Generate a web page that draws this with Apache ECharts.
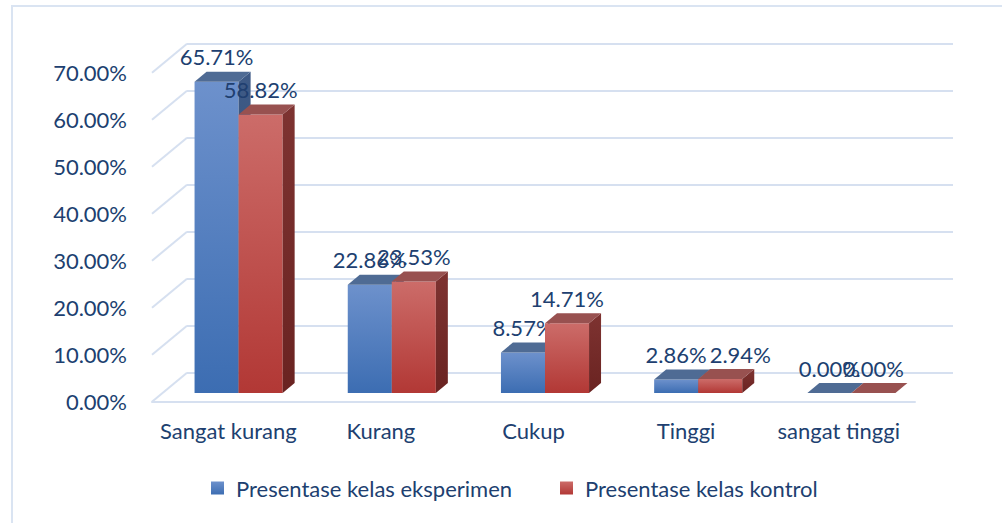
<!DOCTYPE html>
<html>
<head>
<meta charset="utf-8">
<script src="https://cdn.jsdelivr.net/npm/echarts@6/dist/echarts.min.js"></script>
<style>html,body{margin:0;padding:0;background:#fff}#chart{width:1002px;height:523px}</style>
</head>
<body>
<div id="chart"></div>
<script>
const categories = ['Sangat kurang', 'Kurang', 'Cukup', 'Tinggi', 'sangat tinggi'];
const eksperimen = [65.71, 22.86, 8.57, 2.86, 0.00];
const kontrol = [58.82, 23.53, 14.71, 2.94, 0.00];
const yTicks = [0, 10, 20, 30, 40, 50, 60, 70];
const seriesNames = ['Presentase kelas eksperimen', 'Presentase kelas kontrol'];

const FONT = 'Lato';
const TEXT = '#203F70';
const GRID_LINE = '#D6E0F0';
const DX = 12, DY = -10;
// label nudges as seen in the reference (series-index, category-index) -> px
const labelNudge = { '1-3': 20 };

const palette = [
  { frontTop: '#6D91CC', frontBot: '#3C6DB2', top: '#4F6B94', side: '#3E5A86', sideBot: '#334C74' },
  { frontTop: '#CC6C69', frontBot: '#B23835', top: '#985150', side: '#7E3331', sideBot: '#6A2321' }
];

function grad(a, b) {
  return new echarts.graphic.LinearGradient(0, 0, 0, 1, [{ offset: 0, color: a }, { offset: 1, color: b }]);
}

function makeBar(k) {
  const c = palette[k];
  return function (params, api) {
    const i = api.value(0), v = api.value(1);
    const base = api.coord([i, 0]);
    const top = api.coord([i, v]);
    const catW = api.size([1, 0])[0];
    const bw = catW * 0.2875;
    const x0 = k === 0 ? base[0] - bw : base[0];
    const x1 = x0 + bw;
    const yT = top[1], yB = base[1];
    const children = [];
    if (yB - yT > 0.5) {
      children.push({ type: 'rect', shape: { x: x0, y: yT, width: bw, height: yB - yT }, style: { fill: grad(c.frontTop, c.frontBot) } });
      children.push({ type: 'polygon', shape: { points: [[x1, yB], [x1 + DX, yB + DY], [x1 + DX, yT + DY], [x1, yT]] }, style: { fill: grad(c.side, c.sideBot) } });
    }
    children.push({ type: 'polygon', shape: { points: [[x0, yT], [x0 + DX, yT + DY], [x1 + DX, yT + DY], [x1, yT]] }, style: { fill: c.top } });
    const nudge = labelNudge[k + '-' + i] || 0;
    children.push({ type: 'text', style: { text: v.toFixed(2) + '%', x: x0 + bw / 2 + nudge, y: yT - 25, align: 'center', verticalAlign: 'middle', font: '22px ' + FONT, fill: TEXT } });
    return { type: 'group', children: children };
  };
}

function wallDiag(params, api) {
  const cs = params.coordSys;
  const p = api.coord([0, api.value(0)]);
  return { type: 'line', shape: { x1: cs.x, y1: p[1], x2: cs.x + 35, y2: p[1] - 29 }, style: { stroke: GRID_LINE, lineWidth: 2 } };
}

const chart = echarts.init(document.getElementById('chart'), null, { renderer: 'svg' });
chart.setOption({
  animation: false,
  backgroundColor: '#fff',
  graphic: [{ type: 'rect', shape: { x: 12, y: 6, width: 1100, height: 600 }, style: { fill: 'none', stroke: '#DAE4F2', lineWidth: 2 }, z: -10 }],
  grid: [
    { left: 187, top: 43.7, width: 766, height: 329 },
    { left: 152, top: 72.7, width: 763, height: 329 },
    { left: 162, top: 61.5, width: 766, height: 331.5 }
  ],
  xAxis: [
    { gridIndex: 0, type: 'category', data: categories, show: false },
    { gridIndex: 1, type: 'category', data: categories,
      axisLine: { lineStyle: { color: GRID_LINE, width: 2 } }, axisTick: { show: false },
      axisLabel: { interval: 0, margin: 18, fontFamily: FONT, fontSize: 22, color: TEXT } },
    { gridIndex: 2, type: 'category', data: categories, show: false }
  ],
  yAxis: [
    { gridIndex: 0, type: 'value', min: 0, max: 70, interval: 10,
      axisLine: { show: false }, axisTick: { show: false }, axisLabel: { show: false },
      splitLine: { lineStyle: { color: GRID_LINE, width: 2 } } },
    { gridIndex: 1, type: 'value', min: 0, max: 70, interval: 10,
      axisLine: { show: false }, axisTick: { show: false }, splitLine: { show: false },
      axisLabel: { margin: 25, fontFamily: FONT, fontSize: 22, color: TEXT, formatter: v => v.toFixed(2) + '%' } },
    { gridIndex: 2, type: 'value', min: 0, max: 70, interval: 10, show: false, splitLine: { show: false } }
  ],
  legend: {
    left: 211, top: 477, padding: 0, itemGap: 48, itemWidth: 13, itemHeight: 13, icon: 'rect',
    textStyle: { fontFamily: FONT, fontSize: 22, color: TEXT, padding: [0, 0, 0, 7] },
    data: seriesNames
  },
  series: [
    { type: 'custom', name: 'walldiag', xAxisIndex: 1, yAxisIndex: 1, data: yTicks.map(t => [t]), encode: { y: 0 }, renderItem: wallDiag, silent: true, z: 1 },
    { type: 'custom', name: seriesNames[0], xAxisIndex: 2, yAxisIndex: 2,
      itemStyle: { color: grad(palette[0].frontTop, palette[0].frontBot) },
      data: eksperimen.map((v, i) => [i, v]), encode: { x: 0, y: 1 }, renderItem: makeBar(0), z: 3 },
    { type: 'custom', name: seriesNames[1], xAxisIndex: 2, yAxisIndex: 2,
      itemStyle: { color: grad(palette[1].frontTop, palette[1].frontBot) },
      data: kontrol.map((v, i) => [i, v]), encode: { x: 0, y: 1 }, renderItem: makeBar(1), z: 4 }
  ]
});
</script>
</body>
</html>
